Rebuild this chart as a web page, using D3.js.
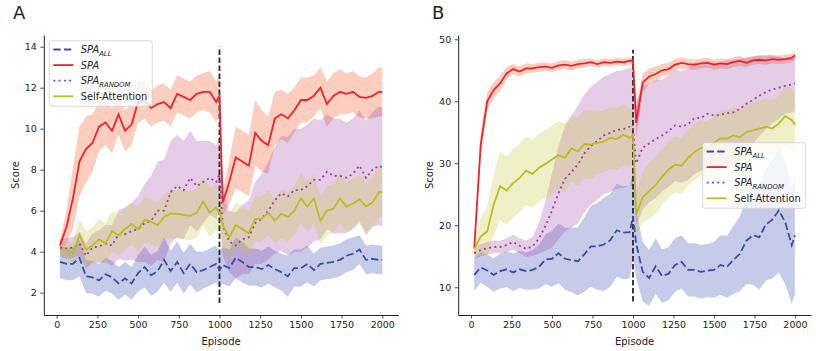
<!DOCTYPE html>
<meta charset="utf-8">
<script src="https://d3js.org/d3.v7.min.js"></script>
<body>
<style>
  html, body { margin: 0; background: white; }
  svg text { font-family: "DejaVu Sans", sans-serif; fill: #222; }
</style>
<svg width="816" height="351"></svg>
<script>
// episode grid shared by every series
var episodes = [20, 60, 100, 140, 180, 220, 260, 300, 340, 380, 420, 460, 500, 540, 580, 620, 660, 700, 740, 780,
  820, 860, 900, 940, 980, 1000, 1020, 1060, 1100, 1140, 1180, 1220, 1260, 1300, 1340, 1380, 1420, 1460, 1500, 1540,
  1580, 1620, 1660, 1700, 1740, 1780, 1820, 1860, 1900, 1940, 1980, 2000];

// ---- panel A ----
var spaAllA = [3.5, 3.4, 3.4, 3.7, 2.8, 2.75, 2.6, 2.9, 2.75, 2.45, 2.7, 2.45, 2.95, 3.25, 2.85, 3.05, 3.6, 3.05, 3.5, 2.95,
  3.4, 3.0, 3.1, 3.25, 3.4, 3.1, 3.35, 3.2, 3.7, 3.5, 3.25, 3.25, 3.15, 3.35, 3.15, 3.0, 2.8, 3.2, 3.2, 3.4,
  3.1, 3.4, 3.45, 3.5, 3.6, 3.8, 3.9, 4.1, 3.6, 3.65, 3.6, 3.6];
var spaAllSdA = [0.8, 0.8, 0.8, 0.9, 0.8, 0.8, 0.8, 0.8, 0.8, 0.8, 0.8, 0.8, 0.9, 1.0, 1.0, 1.0, 1.1, 1.0, 1.0, 1.0,
  1.0, 1.0, 0.9, 0.9, 0.9, 0.9, 0.9, 0.9, 1.0, 1.0, 0.9, 0.9, 0.9, 0.9, 0.9, 0.9, 1.0, 0.9, 0.9, 0.9,
  0.8, 0.8, 0.8, 0.8, 0.8, 0.8, 0.8, 0.7, 0.7, 0.7, 0.7, 0.7];
var spaA = [4.3, 5.2, 6.6, 8.4, 9.0, 9.3, 10.1, 10.3, 9.9, 10.7, 9.9, 10.2, 11.3, 11.4, 11.0, 11.2, 11.3, 11.0, 11.7, 11.55,
  11.4, 11.7, 11.8, 11.8, 11.3, 11.6, 6.4, 7.4, 8.6, 8.4, 8.2, 9.8, 9.4, 9.2, 10.5, 10.7, 10.5, 10.9, 11.4, 11.4,
  11.6, 12.0, 11.2, 11.6, 11.8, 11.7, 11.8, 11.55, 11.5, 11.6, 11.8, 11.8];
var spaSdA = [0.3, 0.8, 1.5, 1.7, 1.6, 1.4, 1.2, 1.1, 1.1, 1.0, 1.0, 1.0, 1.0, 0.9, 0.9, 0.9, 0.9, 0.9, 0.9, 0.9,
  0.9, 0.9, 0.9, 1.0, 1.0, 1.0, 0.6, 1.1, 1.5, 1.5, 1.5, 1.6, 1.5, 1.4, 1.3, 1.2, 1.2, 1.1, 1.1, 1.1,
  1.0, 1.0, 1.1, 1.1, 1.1, 1.0, 1.0, 1.0, 1.0, 1.1, 1.2, 1.2];
var spaRandA = [4.2, 4.15, 4.2, 4.4, 3.8, 4.2, 4.25, 4.4, 4.3, 4.85, 4.85, 5.0, 5.1, 5.4, 5.5, 6.0, 6.0, 6.9, 7.2, 7.0,
  7.6, 7.2, 7.4, 7.6, 7.4, 7.8, 5.3, 4.5, 4.3, 4.6, 4.7, 5.4, 5.6, 6.0, 6.5, 6.85, 6.7, 7.0, 7.0, 7.2,
  7.5, 7.5, 7.9, 7.7, 7.7, 7.6, 7.8, 8.2, 7.6, 8.0, 8.2, 8.1];
var spaRandSdA = [0.4, 0.5, 0.5, 0.6, 0.6, 0.7, 0.8, 0.9, 1.0, 1.2, 1.3, 1.4, 1.6, 1.9, 2.2, 2.4, 2.5, 2.5, 2.5, 2.4,
  2.3, 2.2, 2.0, 1.8, 1.8, 1.8, 1.5, 1.5, 1.6, 1.7, 1.8, 2.0, 2.2, 2.4, 2.6, 2.8, 2.9, 3.0, 3.0, 3.0,
  3.0, 2.9, 2.8, 2.8, 2.8, 2.7, 2.7, 2.7, 2.8, 2.8, 2.9, 2.9];
var attA = [4.1, 4.1, 3.9, 4.8, 4.1, 4.3, 4.6, 4.4, 5.0, 4.8, 5.1, 5.35, 5.1, 5.55, 5.45, 5.3, 5.7, 5.85, 5.85, 5.8,
  5.75, 5.9, 6.45, 5.9, 6.15, 5.9, 5.3, 4.7, 5.3, 5.1, 4.9, 5.6, 5.6, 5.9, 5.5, 5.85, 5.7, 6.0, 6.6, 6.2,
  6.6, 5.5, 6.0, 6.1, 6.6, 6.2, 6.35, 6.55, 6.2, 6.4, 6.9, 6.9];
var attSdA = [0.3, 0.4, 0.6, 0.8, 0.9, 0.9, 1.0, 1.0, 1.0, 1.0, 1.0, 1.0, 1.1, 1.1, 1.1, 1.1, 1.1, 1.2, 1.2, 1.2,
  1.2, 1.2, 1.2, 1.2, 1.1, 1.0, 1.0, 1.1, 1.1, 1.1, 1.1, 1.1, 1.1, 1.1, 1.1, 1.2, 1.2, 1.2, 1.2, 1.2,
  1.2, 1.2, 1.2, 1.2, 1.2, 1.2, 1.2, 1.2, 1.2, 1.2, 1.2, 1.2];

// ---- panel B ----
var spaAllB = [12.0, 13.2, 12.7, 12.0, 12.6, 12.9, 12.4, 12.9, 12.6, 12.8, 13.3, 14.5, 14.6, 15.5, 14.6, 14.4, 14.2, 15.3, 16.6, 16.6,
  16.9, 17.6, 19.2, 18.8, 18.9, 21.5, 17.0, 12.5, 11.5, 13.4, 11.8, 12.2, 13.6, 14.1, 12.8, 12.8, 12.5, 12.7, 12.8, 13.6,
  13.3, 14.4, 15.4, 17.5, 18.4, 18.1, 20.1, 20.9, 22.4, 20.5, 16.8, 18.4];
var spaAllSdB = [2.5, 2.5, 2.6, 2.7, 2.8, 2.9, 3.0, 3.0, 3.0, 3.2, 3.5, 4.0, 4.5, 4.8, 5.0, 5.2, 5.5, 6.0, 6.5, 7.0,
  7.5, 7.5, 7.5, 7.5, 7.5, 7.0, 5.5, 4.8, 4.5, 4.5, 4.3, 4.3, 4.3, 4.3, 4.3, 4.3, 4.3, 4.3, 4.5, 4.8,
  5.0, 5.5, 6.0, 7.0, 8.0, 8.5, 9.0, 9.5, 10.0, 10.0, 9.5, 9.5];
var spaB = [16.3, 33.0, 40.0, 41.8, 42.9, 44.5, 45.2, 44.8, 45.3, 45.3, 45.5, 45.6, 45.4, 45.8, 45.9, 45.7, 46.0, 46.1, 46.3, 46.0,
  46.3, 46.2, 46.4, 46.3, 46.5, 46.6, 36.5, 43.0, 44.0, 44.4, 45.0, 45.2, 45.9, 46.2, 46.0, 45.9, 46.1, 46.2, 45.9, 46.1,
  46.0, 46.3, 46.5, 46.2, 46.6, 46.7, 46.6, 46.8, 46.7, 46.8, 47.0, 47.4];
var spaSdB = [0.5, 2.0, 1.5, 1.3, 1.2, 1.0, 0.8, 0.8, 0.8, 0.7, 0.7, 0.7, 0.7, 0.7, 0.7, 0.7, 0.7, 0.7, 0.6, 0.6,
  0.6, 0.6, 0.6, 0.6, 0.6, 0.6, 2.5, 1.5, 1.3, 1.2, 1.0, 1.0, 0.9, 0.9, 0.8, 0.8, 0.8, 0.8, 0.8, 0.8,
  0.8, 0.8, 0.8, 0.7, 0.7, 0.7, 0.7, 0.7, 0.7, 0.7, 0.7, 0.7];
var spaRandB = [15.5, 16.0, 16.3, 16.5, 16.5, 16.8, 17.3, 16.7, 16.2, 16.6, 17.9, 19.9, 22.4, 25.2, 27.5, 28.6, 29.8, 31.6, 32.8, 33.6,
  34.5, 34.9, 35.4, 35.5, 35.9, 35.7, 30.0, 32.5, 33.2, 33.9, 34.5, 35.2, 36.1, 35.9, 36.3, 37.3, 37.3, 38.0, 37.7, 37.8,
  38.1, 38.2, 38.8, 39.6, 40.2, 40.9, 41.5, 41.9, 42.2, 42.5, 42.7, 42.9];
var spaRandSdB = [1.0, 1.0, 1.0, 1.0, 1.0, 1.1, 1.2, 1.2, 1.3, 1.5, 2.5, 4.0, 6.0, 7.5, 8.5, 9.0, 9.5, 9.5, 9.5, 9.5,
  9.5, 9.5, 9.5, 9.5, 9.5, 9.5, 10.0, 10.0, 9.5, 9.5, 9.0, 9.0, 9.0, 9.0, 9.0, 9.0, 8.5, 8.5, 8.5, 8.5,
  8.5, 8.5, 8.0, 7.5, 7.0, 6.5, 6.0, 5.5, 5.0, 4.5, 4.5, 4.5];
var attB = [16.2, 18.2, 19.0, 23.3, 26.3, 25.6, 26.8, 27.6, 28.8, 28.3, 29.3, 29.9, 30.6, 31.3, 30.9, 32.4, 31.9, 33.1, 33.0, 33.3,
  33.5, 34.1, 33.9, 34.6, 34.1, 34.6, 21.8, 24.5, 25.5, 26.5, 27.8, 29.0, 29.8, 29.6, 30.9, 31.8, 32.5, 32.2, 33.3, 34.0,
  34.0, 34.5, 34.2, 35.0, 35.3, 35.6, 35.9, 35.6, 36.4, 37.6, 37.0, 36.2];
var attSdB = [1.5, 3.0, 4.0, 5.0, 5.5, 5.5, 5.5, 5.5, 5.5, 5.5, 5.5, 5.5, 5.5, 5.5, 5.5, 5.5, 5.5, 5.5, 5.5, 5.0,
  5.0, 5.0, 5.0, 5.0, 4.5, 4.5, 3.5, 4.0, 4.5, 4.5, 4.5, 4.5, 4.5, 4.5, 4.5, 4.5, 4.5, 4.5, 4.5, 4.5,
  4.5, 4.5, 4.5, 4.5, 4.5, 4.5, 4.5, 4.5, 4.5, 5.0, 5.0, 5.0];

var xTicks = [0, 250, 500, 750, 1000, 1250, 1500, 1750, 2000];
var yTicksA = [2, 4, 6, 8, 10, 12, 14];
var yTicksB = [10, 20, 30, 40, 50];
var switchEpisode = 1000;
var switchSpanA = [1.5, 14.0];
var switchSpanB = [7.7, 48.3];

// legend labels: [main, subscript]
var labels = [['SPA', 'ALL'], ['SPA', ''], ['SPA', 'RANDOM'], ['Self-Attention', '']];

var styles = [
  { stroke: '#3a4fa3', dash: '7.4,3.2', fill: '#4454bb', op: 0.3, italic: true },
  { stroke: '#f0232a', dash: null, fill: '#f75c2a', op: 0.3, italic: true },
  { stroke: '#a33ea3', dash: '2,3.3', fill: '#9a3fa6', op: 0.26, italic: true },
  { stroke: '#bcbd22', dash: null, fill: '#c4c43a', op: 0.28, italic: false }
];

var svg = d3.select('svg');

function drawPanel(opt) {
  var x = d3.scaleLinear().domain([-79, 2099]).range(opt.xr);
  var y = d3.scaleLinear().domain(opt.yd).range([315, 35]);
  var g = svg.append('g');

  var area = d3.area()
    .x(function (d) { return x(d.e); })
    .y0(function (d) { return y(d.m - d.s); })
    .y1(function (d) { return y(d.m + d.s); });
  var line = d3.line()
    .x(function (d) { return x(d.e); })
    .y(function (d) { return y(d.m); });

  var data = opt.series.map(function (s) {
    return episodes.map(function (e, i) { return { e: e, m: s[0][i], s: s[1][i] }; });
  });

  // bands sit below every line (like matplotlib collections)
  data.forEach(function (d, i) {
    g.append('path').datum(d).attr('d', area)
      .attr('fill', styles[i].fill).attr('fill-opacity', styles[i].op).attr('stroke', 'none');
  });

  g.append('line')
    .attr('x1', x(switchEpisode)).attr('x2', x(switchEpisode))
    .attr('y1', y(opt.span[0])).attr('y2', y(opt.span[1]))
    .attr('stroke', '#2a2a2a').attr('stroke-width', 1.8).attr('stroke-dasharray', '5.5,2.5');

  data.forEach(function (d, i) {
    g.append('path').datum(d).attr('d', line)
      .attr('fill', 'none').attr('stroke', styles[i].stroke).attr('stroke-width', 1.8)
      .attr('stroke-dasharray', styles[i].dash);
  });

  // axes
  var xa = g.append('g').attr('transform', 'translate(0,315)')
    .call(d3.axisBottom(x).tickValues(xTicks).tickFormat(d3.format('d'))
      .tickSize(3.5).tickSizeOuter(0).tickPadding(3));
  var ya = g.append('g').attr('transform', 'translate(' + opt.xr[0] + ',0)')
    .call(d3.axisLeft(y).tickValues(opt.yt).tickFormat(d3.format('d'))
      .tickSize(3.5).tickSizeOuter(0).tickPadding(3.5));
  [xa, ya].forEach(function (a) {
    a.selectAll('text').style('font-size', '9.5px').attr('fill', '#222');
    a.select('.domain').attr('stroke', '#222').attr('stroke-width', 1);
    a.selectAll('.tick line').attr('stroke', '#222').attr('stroke-width', 0.8);
  });

  var cx = (opt.xr[0] + opt.xr[1]) / 2;
  g.append('text').attr('x', cx).attr('y', 345).attr('text-anchor', 'middle')
    .style('font-size', '10px').text('Episode');
  g.append('text').attr('transform', 'translate(' + (opt.xr[0] - 25) + ',175) rotate(-90)')
    .attr('text-anchor', 'middle').style('font-size', '10px').text('Score');
  g.append('text').attr('x', opt.letterX).attr('y', 19).style('font-size', '18px').text(opt.letter);

  // legend
  var lg = g.append('g').attr('transform', 'translate(' + opt.legend[0] + ',' + opt.legend[1] + ')');
  lg.append('rect').attr('width', 103).attr('height', 65.5).attr('rx', 2.5)
    .attr('fill', 'white').attr('fill-opacity', 0.8).attr('stroke', '#d0d0d0').attr('stroke-width', 0.8);
  labels.forEach(function (lab, i) {
    var cy = 8.8 + i * 15.6;
    lg.append('line').attr('x1', 4).attr('x2', 24).attr('y1', cy).attr('y2', cy)
      .attr('stroke', styles[i].stroke).attr('stroke-width', 1.8).attr('stroke-dasharray', styles[i].dash);
    var t = lg.append('text').attr('x', 31.5).attr('y', cy + 3.6).style('font-size', '9.8px');
    t.append('tspan').style('font-style', styles[i].italic ? 'italic' : 'normal').text(lab[0]);
    if (lab[1]) {
      t.append('tspan').attr('dy', 2.6).style('font-size', '6.9px').style('font-style', 'italic').text(lab[1]);
    }
  });
}

drawPanel({
  xr: [43.8, 398.4], yd: [0.91, 14.57], yt: yTicksA, span: switchSpanA,
  letter: 'A', letterX: 13, legend: [49.3, 40.7],
  series: [[spaAllA, spaAllSdA], [spaA, spaSdA], [spaRandA, spaRandSdA], [attA, attSdA]]
});
drawPanel({
  xr: [458.2, 811], yd: [5.53, 50.69], yt: yTicksB, span: switchSpanB,
  letter: 'B', letterX: 432, legend: [702.7, 142.7],
  series: [[spaAllB, spaAllSdB], [spaB, spaSdB], [spaRandB, spaRandSdB], [attB, attSdB]]
});
</script>
</body>
